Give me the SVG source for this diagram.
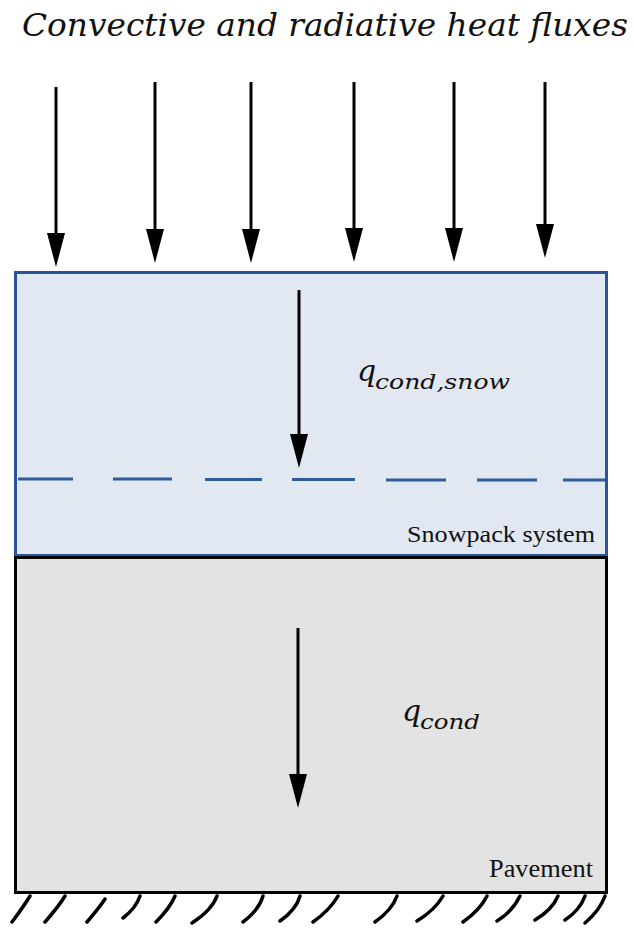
<svg xmlns="http://www.w3.org/2000/svg" width="634" height="928" viewBox="0 0 634 928">
<style>
.ttl{font-family:"DejaVu Serif","Liberation Serif",serif;font-style:italic;fill:#111}
.lbl{font-family:"Liberation Serif","Times New Roman",serif;fill:#111}
.arr{stroke:#000;stroke-width:3;fill:none}
.hatch{stroke:#000;stroke-width:3.5;fill:none;stroke-linecap:round}
</style>
<defs>
<marker id="ah" viewBox="0 0 34 18" refX="14" refY="9" markerWidth="34" markerHeight="18" markerUnits="userSpaceOnUse" orient="auto">
<path d="M0,0 L34,9 L0,18 z" fill="#000"/>
</marker>
</defs>
<rect width="634" height="928" fill="#fff"/>
<text class="ttl" x="22" y="36" font-size="32" textLength="606" lengthAdjust="spacingAndGlyphs">Convective and radiative heat fluxes</text>
<g id="snowpack">
<rect x="15.5" y="272.5" width="591" height="283" fill="#e2e8f2" stroke="#2a5597" stroke-width="3"/>
<path d="M18,479 H73 M113,479 H172 M205,479.5 H262 M292,479.5 H355 M386,480 H446 M477,480 H537 M563,480 H605" stroke="#2e5c9a" stroke-width="3" fill="none"/>
<text class="lbl" x="407" y="542" font-size="24" textLength="188" lengthAdjust="spacingAndGlyphs">Snowpack system</text>
</g>
<g id="pavement">
<rect x="15.5" y="557.5" width="591" height="335" fill="#e3e3e3" stroke="#000" stroke-width="3"/>
<text class="lbl" x="489" y="877" font-size="25" textLength="104" lengthAdjust="spacingAndGlyphs">Pavement</text>
</g>
<g id="ground">
<path class="hatch" d="M30,896 Q24,906 12,922 M65,896 Q59,906 45,922 M105,899 Q99,908 87,922 M140,896 Q136,908 123,918 M175,896 Q170,908 156,922 M217,896 Q212,910 192,923 M263,896 Q259,910 243,922 M300,896 Q296,910 280,921 M338,896 Q330,910 313,922 M397,896 Q392,910 375,922 M443,896 Q435,910 417,921 M487,896 Q480,910 463,922 M520,896 Q512,912 497,921 M558,896 Q552,910 535,920 M585,896 Q580,910 565,920 M605,896 Q600,910 585,923"/>
</g>
<g id="labels">
<text class="ttl" x="357" y="381" font-size="30">q</text>
<text class="ttl" x="375" y="389" font-size="21" textLength="135" lengthAdjust="spacingAndGlyphs">cond,snow</text>
<text class="ttl" x="402" y="721" font-size="30">q</text>
<text class="ttl" x="420" y="729" font-size="21" textLength="60" lengthAdjust="spacingAndGlyphs">cond</text>
</g>
<g id="connectors">
<line class="arr" x1="56" y1="87" x2="56" y2="247" marker-end="url(#ah)"/>
<line class="arr" x1="155" y1="82" x2="155" y2="243" marker-end="url(#ah)"/>
<line class="arr" x1="251" y1="82" x2="251" y2="243" marker-end="url(#ah)"/>
<line class="arr" x1="354" y1="82" x2="354" y2="242" marker-end="url(#ah)"/>
<line class="arr" x1="454" y1="82" x2="454" y2="242" marker-end="url(#ah)"/>
<line class="arr" x1="545" y1="82" x2="545" y2="238" marker-end="url(#ah)"/>
<line class="arr" x1="299" y1="290" x2="299" y2="448" marker-end="url(#ah)"/>
<line class="arr" x1="298" y1="628" x2="298" y2="788" marker-end="url(#ah)"/>
</g>
</svg>
